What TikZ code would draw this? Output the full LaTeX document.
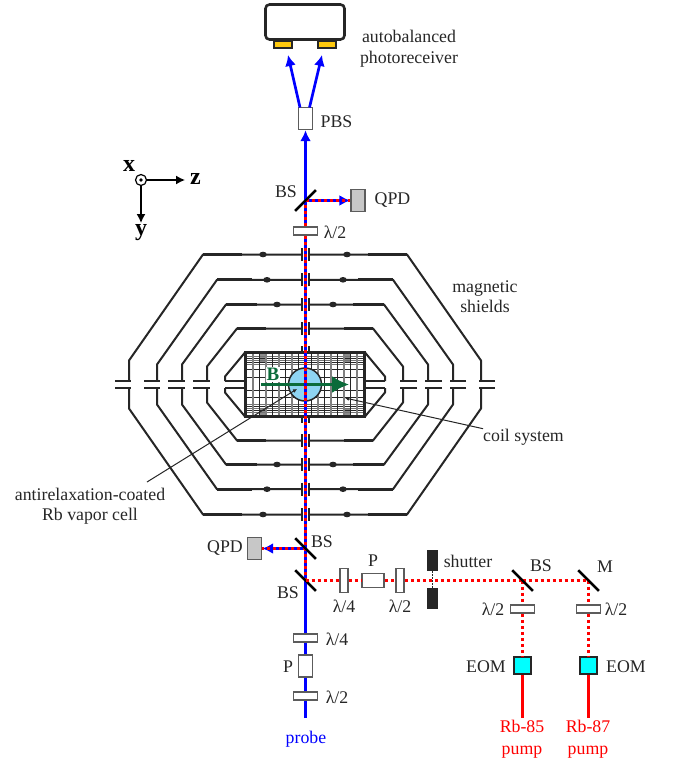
\documentclass[tikz,border=0pt]{standalone}
\usepackage{fontspec}
\setmainfont{Liberation Serif}
\usepackage{tikz}
\usetikzlibrary{arrows.meta}

\definecolor{darkline}{HTML}{262626}
\definecolor{fieldgreen}{HTML}{0B6B3A}
\definecolor{cellblue}{HTML}{8ED4F2}
\definecolor{padyellow}{HTML}{FFC90E}
\definecolor{eomcyan}{HTML}{00FFFF}
\tikzset{
	lbl/.style={font=\fontsize{17.8}{20}\selectfont, text=darkline, inner sep=0pt, align=center},
	axislbl/.style={font=\fontsize{24}{24}\selectfont\bfseries, text=black, inner sep=0pt},
	plate/.style={draw=darkline!75, fill=white, line width=1.5pt, inner sep=0pt},
	waveh/.style={plate, minimum width=24pt, minimum height=8pt},
	wavev/.style={plate, minimum width=8pt, minimum height=24pt},
	polh/.style={plate, minimum width=22pt, minimum height=14pt},
	polv/.style={plate, minimum width=14pt, minimum height=22pt},
	splitter/.style={fill=black, inner sep=0pt, minimum width=29pt, minimum height=2.2pt},
	qpdbox/.style={draw=darkline!75, fill=black!22, line width=1.4pt, inner sep=0pt, minimum width=14pt, minimum height=22pt},
	eombox/.style={draw=darkline, fill=eomcyan, line width=1.5pt, inner sep=0pt, minimum size=17pt},
	shutterblade/.style={fill=darkline, inner sep=0pt, minimum width=11pt, minimum height=21pt},
	padbox/.style={draw=darkline, fill=padyellow, line width=2pt, inner sep=0pt, minimum width=18pt, minimum height=7pt},
	probebeam/.style={draw=blue, line width=2.7pt},
	pumpbeam/.style={draw=red, line width=3pt, dash pattern=on 3pt off 3pt},
	bothbeam/.style={draw=blue, line width=3pt, postaction={draw=red, -, line width=3pt, dash pattern=on 3pt off 3pt}},
	shield/.style={draw=darkline, line width=2pt},
}

\begin{document}
\begin{tikzpicture}[x=1pt, y=-1pt]
	\useasboundingbox (0,0) rectangle (673,762);
	% shields
	\begin{scope}[shift={(305,384.5)}]
	\foreach \w/\h/\f/\s/\t/\la/\lb in {176/130/102/24/63/190/174, 148/104.7/88/20/53/161/145, 123/80/79/20/48/137/120, 98/56/68/18/39/112/95, 80/32/60/8/60/80/60}
		\foreach \sx in {-1,1}
			\foreach \sy in {-1,1} {
				\begin{scope}[xscale=\sx, yscale=\sy]
				\draw[shield] (\la,3.5) -- (\lb,3.5);
				\draw[shield, line join=round] (\w,3.5) -- (\w,\s) -- (\f,\h) -- (3.5,\h);
				\draw[shield] (3.5,\h-6.5) -- (3.5,\h+6.5);
				\draw[shield, line width=3pt] (\f,\h) -- (\t,\h);
				\end{scope}
			}
	\foreach \b/\h in {42/130, 38/104.7, 28/80}
		\foreach \sx in {-1,1}
			\foreach \sy in {-1,1}
				\fill[darkline] (\sx*\b,\sy*\h) ellipse (3.8 and 2.8);
	% coil system
	\fill[white] (-60,-32) rectangle (60,32);
	\foreach \cx in {-42,42}
		\foreach \cy in {-27.5,27.5}
			\fill[black!45] (\cx-4,\cy-4.5) rectangle (\cx+4,\cy+4.5);
	\foreach \cy in {-28,-24,-20,20,24,28}
		\draw[black!55, line width=1.6pt] (-60,\cy) -- (60,\cy);
	\foreach \cy in {-26,-22,-15,-7,6,13,22,26}
		\draw[darkline, line width=.7pt] (-60,\cy) -- (60,\cy);
	\foreach \cx in {-52,-39,-26,-13,0,13,26,39,52}
		\draw[black!50, line width=1.6pt] (\cx,-31) -- (\cx,31);
	\foreach \cx in {-58.5,-45.5,-32.5,-19.5,-6.5,6.5,19.5,32.5,45.5,58.5}
		\draw[darkline, line width=.7pt] (\cx,-31) -- (\cx,31);
	\draw[darkline, line width=2.2pt] (-60,-32) rectangle (60,32);
	% vapor cell and field
	\draw[draw=darkline, fill=cellblue, line width=1.5pt] (0,0) circle (16.5);
	\node[font=\fontsize{19}{19}\selectfont\bfseries, text=fieldgreen, fill=white, inner sep=1pt] (fieldlab) at (-32,-10) {B};
	\coordinate (fieldtail) at (-44,0);
	\coordinate (fieldhead) at (44,0);
	\draw[fieldgreen, line width=2.6pt, -{Latex[length=17pt, width=17pt]}] (fieldtail) -- (fieldhead);
	\end{scope}

	% receiver
	\node[draw=darkline, fill=white, line width=2.6pt, rounded corners=4pt, minimum width=79pt, minimum height=35pt, inner sep=0pt] (recv) at (305,22) {};
	\node[padbox] (padl) at (282.5,44.5) {};
	\node[padbox] (padr) at (327,44.5) {};
	\node[lbl] (recvlab) at (409,48.5) {autobalanced\\[1pt]photoreceiver};

	% probe arm, top
	\node[polv] (pbs) at (305.5,118.5) {};
	\node[lbl, anchor=west] (pbslab) at (320.5,122) {PBS};
	\node[splitter, rotate=45] (bstop) at (305.5,200.5) {};
	\node[lbl] (bstoplab) at (286,192) {BS};
	\node[qpdbox] (qpdtop) at (358,200.5) {};
	\node[lbl] (qpdtoplab) at (392.5,200.5) {QPD};
	\node[waveh] (halftop) at (305.5,231) {};
	\node[lbl] (halftoplab) at (335,232.5) {λ/2};

	\coordinate (pbsl) at (300,107.5);
	\coordinate (pbsr) at (309.5,107.5);
	\coordinate (recvl) at (288,55);
	\coordinate (recvr) at (322,55);
	\draw[probebeam, -{Latex[length=11pt, width=11pt]}] (pbsl) -- (recvl);
	\draw[probebeam, -{Latex[length=11pt, width=11pt]}] (pbsr) -- (recvr);
	\draw[probebeam, -{Latex[length=11pt, width=11pt]}] (bstop.center) -- (pbs.south);
	\draw[bothbeam, -{Latex[length=11pt, width=11pt]}] (bstop.center) -- (qpdtop.west);
	\draw[bothbeam] (halftop.north) -- (bstop.center);
	\node[splitter, rotate=45] at (bstop.center) {};

	% axes
	\node[draw=black, line width=1.2pt, circle, minimum size=11pt, inner sep=0pt] (axisx) at (141,180) {};
	\fill[black] (axisx) circle (1.8);
	\coordinate (axisz) at (185,180);
	\coordinate (axisy) at (141,223);
	\draw[line width=1.4pt, -{Latex[length=9pt, width=9pt]}] (axisx) -- (axisz);
	\draw[line width=1.4pt, -{Latex[length=9pt, width=9pt]}] (axisx) -- (axisy);
	\node[axislbl] (xlab) at (129,166) {x};
	\node[axislbl] (zlab) at (195.5,179) {z};
	\node[axislbl] (ylab) at (141,233) {y};

	\node[lbl] (shieldlab) at (485,296.5) {magnetic\\shields};
	\node[lbl] (coillab) at (523.5,437) {coil system};
	\node[lbl] (celllab) at (90,506.5) {antirelaxation-coated\\Rb vapor cell};
	\coordinate (coilpt) at (345,398);
	\coordinate (cellpt) at (297,389);
	\coordinate (cellend) at (147,482);

	% probe arm, bottom
	\node[splitter, rotate=-45] (bsmid) at (305.5,548.5) {};
	\node[lbl] (bsmidlab) at (322,542) {BS};
	\node[qpdbox] (qpdbot) at (254.5,548.5) {};
	\node[lbl] (qpdbotlab) at (225,548.5) {QPD};
	\node[splitter, rotate=-45] (bslow) at (305.5,580.5) {};
	\node[lbl] (bslowlab) at (288,593) {BS};
	\node[waveh] (qwprobe) at (305.5,638) {};
	\node[lbl] (qwprobelab) at (337,639) {λ/4};
	\node[polv] (polprobe) at (305.5,666) {};
	\node[lbl] (polprobelab) at (288,667) {P};
	\node[waveh] (hwprobe) at (305.5,696) {};
	\node[lbl] (hwprobelab) at (337,697) {λ/2};
	\coordinate (probein) at (305.5,718);
	\node[lbl, text=blue] (probelab) at (306,739) {probe};

	\draw[probebeam] (probein) -- (hwprobe.south);
	\draw[probebeam] (hwprobe.north) -- (polprobe.south);
	\draw[probebeam] (polprobe.north) -- (qwprobe.south);
	\draw[probebeam] (qwprobe.north) -- (bslow.center);
	\draw[bothbeam] (bslow.center) -- (halftop.south);
	\draw[bothbeam, -{Latex[length=11pt, width=11pt]}] (bsmid.center) -- (qpdbot.east);
	\node[splitter, rotate=-45] at (bsmid.center) {};
	\node[splitter, rotate=-45] at (bslow.center) {};

	% leaders
	\draw[darkline, line width=1pt, -{Latex[length=4pt, width=4pt]}] (coillab.north west) -- (coilpt);
	\draw[darkline, line width=1pt, -{Latex[length=4pt, width=4pt]}] (cellend) -- (cellpt);

	% pump arm
	\node[wavev] (qwpump) at (344,580.5) {};
	\node[lbl] (qwpumplab) at (344,606) {λ/4};
	\node[polh] (polpump) at (373,580.5) {};
	\node[lbl] (polpumplab) at (373,561) {P};
	\node[wavev] (hwpump) at (400,580.5) {};
	\node[lbl] (hwpumplab) at (400,606) {λ/2};
	\node[shutterblade] (shutup) at (432.5,560.5) {};
	\node[shutterblade] (shutdown) at (432.5,598.5) {};
	\node[lbl] (shutlab) at (468,561) {shutter};
	\node[splitter, rotate=-45] (bspump) at (522.5,580.5) {};
	\node[lbl] (bspumplab) at (541,566) {BS};
	\node[splitter, rotate=-45] (mirror) at (588.5,580.5) {};
	\node[lbl] (mirrorlab) at (605,567) {M};
	\node[waveh] (hw85) at (522.5,609) {};
	\node[lbl] (hw85lab) at (493,609) {λ/2};
	\node[waveh] (hw87) at (588.5,609) {};
	\node[lbl] (hw87lab) at (616,609) {λ/2};
	\node[eombox] (eom85) at (522.5,665.5) {};
	\node[lbl] (eom85lab) at (486,667) {EOM};
	\node[eombox] (eom87) at (588.5,665.5) {};
	\node[lbl] (eom87lab) at (626,667) {EOM};
	\coordinate (pump85) at (522.5,718);
	\coordinate (pump87) at (588.5,718);
	\node[lbl, text=red] (pump85lab) at (522,739) {Rb-85\\[1.5pt]pump};
	\node[lbl, text=red] (pump87lab) at (588,739) {Rb-87\\[1.5pt]pump};

	\draw[pumpbeam] (bslow.center) -- (qwpump.west);
	\draw[pumpbeam] (qwpump.east) -- (polpump.west);
	\draw[pumpbeam] (polpump.east) -- (hwpump.west);
	\draw[pumpbeam] (hwpump.east) -- (bspump.center);
	\draw[pumpbeam] (bspump.center) -- (mirror.center);
	\draw[pumpbeam] (bspump.center) -- (hw85.north);
	\draw[pumpbeam] (hw85.south) -- (eom85.north);
	\draw[pumpbeam] (mirror.center) -- (hw87.north);
	\draw[pumpbeam] (hw87.south) -- (eom87.north);
	\draw[red, line width=3pt] (eom85.south) -- (pump85);
	\draw[red, line width=3pt] (eom87.south) -- (pump87);
	\draw[darkline, line width=1.4pt, dash pattern=on 1.5pt off 1.5pt] (shutup.south) -- (shutdown.north);
	\node[splitter, rotate=-45] at (bspump.center) {};
	\node[splitter, rotate=-45] at (mirror.center) {};
\end{tikzpicture}
\end{document}
